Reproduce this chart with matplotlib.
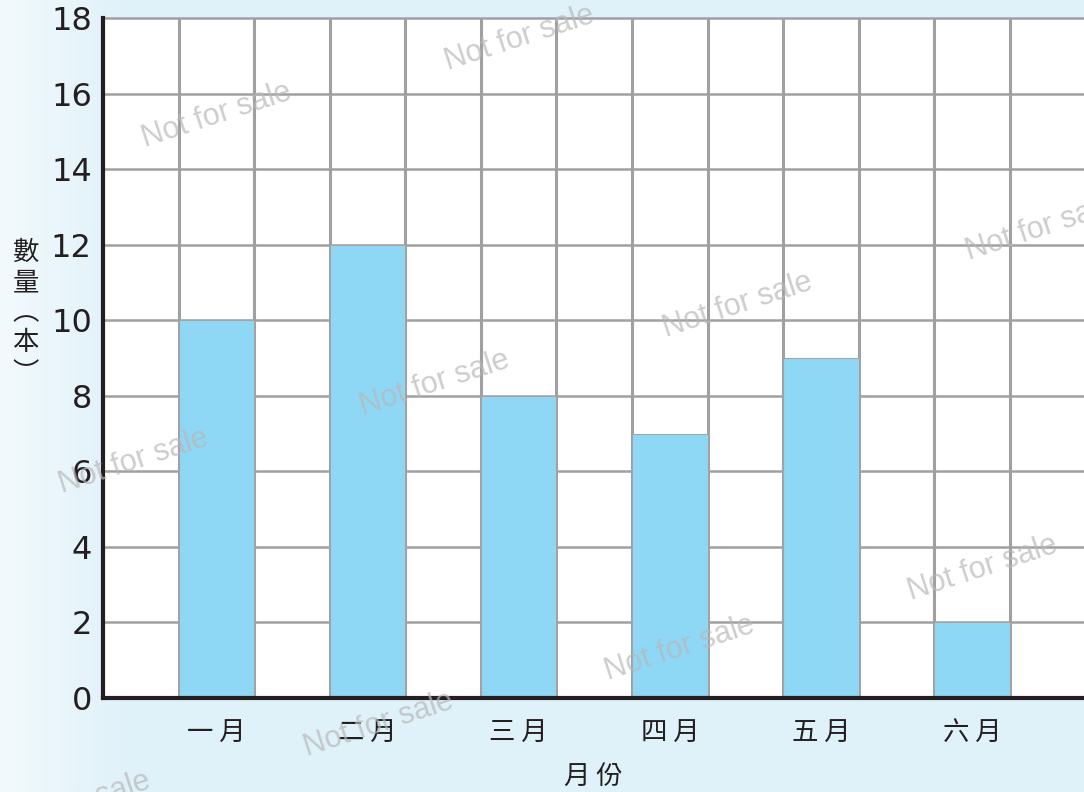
import matplotlib.pyplot as plt
import numpy as np

months = ['一 月', '二 月', '三 月', '四 月', '五 月', '六 月']
counts = [10, 12, 8, 7, 9, 2]
bar_pos = [1.5, 3.5, 5.5, 7.5, 9.5, 11.5]
y_ticks = [0, 2, 4, 6, 8, 10, 12, 14, 16, 18]

# watermark positions in figure fraction
wm_x = [0.479, 0.200, 0.960, 0.680, 0.401, 0.123, 0.906, 0.627, 0.349, 0.07]
wm_y = [0.952, 0.855, 0.712, 0.615, 0.516, 0.417, 0.283, 0.182, 0.085, -0.015]

cjk = ['Noto Sans CJK TC', 'DejaVu Sans']

fig = plt.figure(figsize=(10.84, 7.92), dpi=100)
fig.patch.set_facecolor('#dff1f9')

# soft whitish glow on the left edge
bg = fig.add_axes([0, 0, 1, 1], zorder=-1)
grad = np.clip(np.linspace(0, 1, 200) / 0.12, 0, 1)
c0 = np.array([0.95, 0.98, 0.99])
c1 = np.array([0xdf, 0xf1, 0xf9]) / 255
img = np.ones((2, 200, 3))
for i in range(200):
    img[:, i] = c0 + (c1 - c0) * grad[i]
bg.imshow(img, aspect='auto', extent=[0, 1, 0, 1])
bg.axis('off')

ax = fig.add_axes([103 / 1084, 94 / 792, 981 / 1084, 680 / 792])
ax.set_facecolor('white')

ax.bar(bar_pos, counts, width=1.0, color='#8ed7f5', edgecolor='#a4a4a4',
       linewidth=0.8, zorder=2)

ax.set_xlim(0, 12.98)
ax.set_ylim(0, 18)

for v in range(1, 13):
    ax.axvline(v, color='#a0a0a3', lw=2.2, zorder=1)
for v in y_ticks[1:]:
    ax.axhline(v, color='#a0a0a3', lw=1.8, zorder=1, clip_on=False)

ax.set_yticks(y_ticks)
ax.set_yticklabels([str(v) for v in y_ticks], fontsize=23, color='#231f20')
ax.set_xticks(bar_pos)
ax.set_xticklabels(months, fontsize=19, family=cjk, color='#231f20')
ax.tick_params(length=0)
ax.tick_params(axis='y', pad=8)
ax.tick_params(axis='x', pad=16)

for s in ['top', 'right']:
    ax.spines[s].set_visible(False)
for s in ['left', 'bottom']:
    ax.spines[s].set_linewidth(3)
    ax.spines[s].set_color('#231f20')
    ax.spines[s].set_zorder(3)

ax.set_xlabel('月 份', fontsize=19, family=cjk, color='#231f20', labelpad=11)
fig.text(0.024, 0.605, '數\n量\n︵\n本\n︶', fontsize=19, family=cjk,
         color='#231f20', ha='center', va='center', linespacing=1.15)

for x, y in zip(wm_x, wm_y):
    fig.text(x, y, 'Not for sale', fontsize=22, family='Liberation Sans',
             color='#b8b8b8', alpha=0.7, rotation=18, ha='center', va='center',
             zorder=10)

fig.savefig('out.png', dpi=100, facecolor=fig.get_facecolor())
